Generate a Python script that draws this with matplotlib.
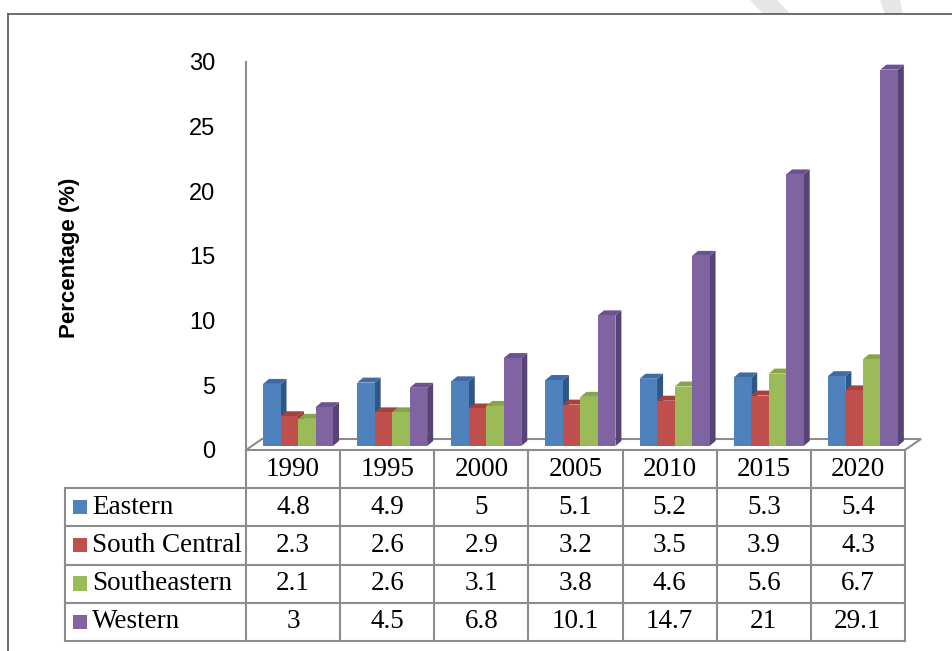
import matplotlib
matplotlib.use('Agg')
import matplotlib.pyplot as plt
from matplotlib.patches import Polygon

years = ['1990', '1995', '2000', '2005', '2010', '2015', '2020']
regions = ['Eastern', 'South Central', 'Southeastern', 'Western']
eastern = [4.8, 4.9, 5, 5.1, 5.2, 5.3, 5.4]
south_central = [2.3, 2.6, 2.9, 3.2, 3.5, 3.9, 4.3]
southeastern = [2.1, 2.6, 3.1, 3.8, 4.6, 5.6, 6.7]
western = [3, 4.5, 6.8, 10.1, 14.7, 21, 29.1]
labels_txt = [['4.8', '4.9', '5', '5.1', '5.2', '5.3', '5.4'],
              ['2.3', '2.6', '2.9', '3.2', '3.5', '3.9', '4.3'],
              ['2.1', '2.6', '3.1', '3.8', '4.6', '5.6', '6.7'],
              ['3', '4.5', '6.8', '10.1', '14.7', '21', '29.1']]
series = [eastern, south_central, southeastern, western]

front = ['#4F81BD', '#C0504D', '#9BBB59', '#8064A2']
side = ['#2F5685', '#8E3532', '#6F8A3C', '#574376']
top = ['#3E6CA6', '#A8413E', '#86A548', '#6B5390']
grid_c = '#8c8c8c'

W, H = 953, 651
fig = plt.figure(figsize=(W / 100, H / 100), dpi=100)

# main chart axes: x groups 0..7, y 0..30
ax = fig.add_axes([246 / W, (H - 450) / H, (905 - 246) / W, (450 - 62) / H])
ax.set_xlim(0, 7)
ax.set_ylim(0, 30)
pxx = (905 - 246) / 7.0
pxy = (450 - 62) / 30.0

# floor
fdx, fdy = 16 / pxx, 11 / pxy
floor = Polygon([(0, 0), (7, 0), (7 + fdx, fdy), (fdx, fdy)], closed=True,
                facecolor='white', edgecolor=grid_c, lw=1.5, clip_on=False, zorder=1)
ax.add_patch(floor)

bw = 17.5 / pxx
off = 17 / pxx
base = 4 / pxy
dx, dy = 6 / pxx, 5 / pxy
for i in range(len(years)):
    for j, vals in enumerate(series):
        x0 = i + off + j * bw
        v = vals[i]
        z = 2 + i * 10 + j * 2
        ax.add_patch(Polygon([(x0 + bw, base), (x0 + bw + dx, base + dy),
                              (x0 + bw + dx, base + v + dy), (x0 + bw, base + v)],
                             closed=True, facecolor=side[j], edgecolor='none',
                             clip_on=False, zorder=z))
        ax.add_patch(Polygon([(x0, base + v), (x0 + dx, base + v + dy),
                              (x0 + bw + dx, base + v + dy), (x0 + bw, base + v)],
                             closed=True, facecolor=top[j], edgecolor='none',
                             clip_on=False, zorder=z))
        ax.bar(x0, v, width=bw, bottom=base, align='edge', color=front[j],
               edgecolor='none', clip_on=False, zorder=z + 1)

for s in ['top', 'right', 'bottom']:
    ax.spines[s].set_visible(False)
ax.spines['left'].set_color(grid_c)
ax.spines['left'].set_linewidth(1.5)
ax.set_xticks([])
ax.set_yticks([0, 5, 10, 15, 20, 25, 30])
ax.tick_params(axis='y', length=0, pad=22, labelsize=17)
for t in ax.get_yticklabels():
    t.set_family('Liberation Sans')
ax.patch.set_alpha(0)

fig.text(70 / W, (H - 258) / H, 'Percentage (%)', rotation=90, ha='center', va='center',
         fontsize=16, fontweight='bold', family='Liberation Sans')

# data table
lw_col = 181 / pxx
tax = fig.add_axes([65 / W, (H - 641) / H, (905 - 65) / W, (641 - 450) / H])
tax.set_xlim(-lw_col, 7)
tax.set_ylim(5, 0)
tax.axis('off')
for r in range(1, 6):
    tax.plot([-lw_col, 7], [r, r], color=grid_c, lw=1.5, clip_on=False, solid_capstyle='projecting')
tax.plot([-lw_col, -lw_col], [1, 5], color=grid_c, lw=1.5, clip_on=False)
for c in range(0, 8):
    tax.plot([c, c], [0, 5], color=grid_c, lw=1.5, clip_on=False)
fs = 19.5
for i, y in enumerate(years):
    tax.text(i + 0.5, 0.5, y, ha='center', va='center', fontsize=fs, family='Liberation Serif')
sq = 14 / pxx
for j, name in enumerate(regions):
    r = j + 1.5
    tax.add_patch(plt.Rectangle((-lw_col + 8 / pxx, r - 0.19), sq, 0.37, facecolor=front[j],
                                edgecolor='none'))
    tax.text(-lw_col + 27 / pxx, r, name, ha='left', va='center', fontsize=fs,
             family='Liberation Serif')
    for i in range(len(years)):
        tax.text(i + 0.5, r, labels_txt[j][i], ha='center', va='center', fontsize=fs,
                 family='Liberation Serif')

# watermark strokes and frame
fig.patches.append(Polygon([(750 / W, 1), (777 / W, 1), (790 / W, (H - 14) / H), (763 / W, (H - 14) / H)],
                           closed=True, transform=fig.transFigure, facecolor='#e6e6e6', edgecolor='none'))
fig.patches.append(Polygon([(880 / W, 1), (900 / W, 1), (903 / W, (H - 14) / H), (885 / W, (H - 14) / H)],
                           closed=True, transform=fig.transFigure, facecolor='#e6e6e6', edgecolor='none'))
fig.lines.append(plt.Line2D([8 / W, 1], [(H - 14) / H] * 2, transform=fig.transFigure, color='#555555', lw=1.2))
fig.lines.append(plt.Line2D([8 / W, 8 / W], [0, (H - 14) / H], transform=fig.transFigure, color='#555555', lw=1.2))

fig.savefig('out.png', dpi=100)
